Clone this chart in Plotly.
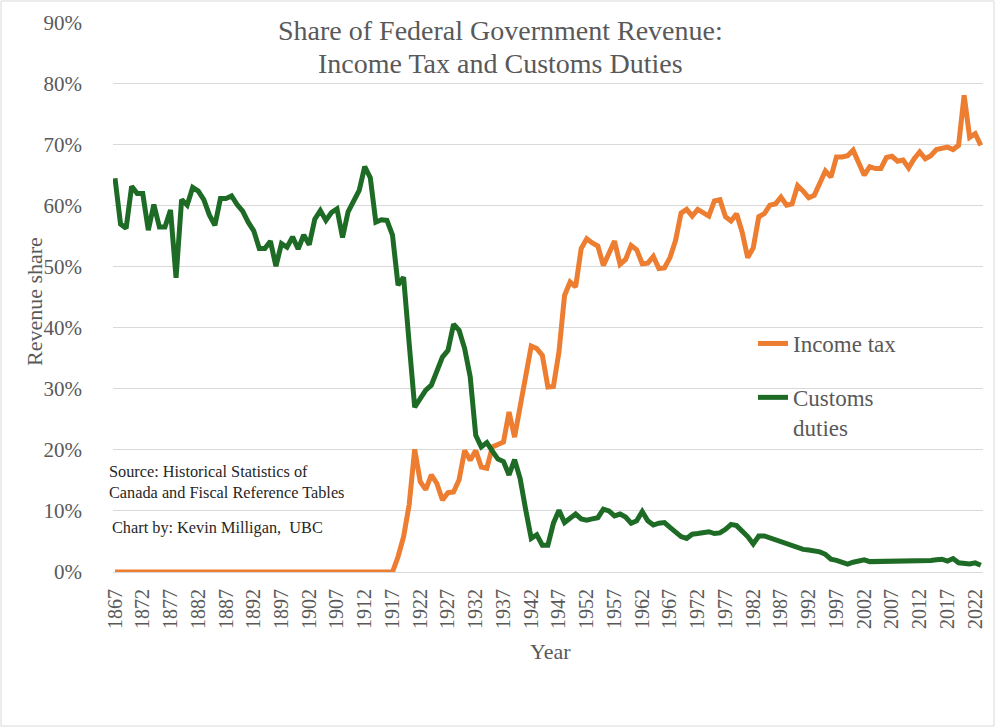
import plotly.graph_objects as go

years = list(range(1867, 2024))

customs_duties = [
    64.5, 57.0, 56.3, 63.2, 62.0, 62.0, 56.0, 60.2, 56.5, 56.5,   # 1867-1876
    59.3, 48.2, 61.0, 60.1, 63.0, 62.4, 61.0, 58.5, 56.8, 61.2,   # 1877-1886
    61.2, 61.6, 60.2, 59.1, 57.3, 55.9, 53.0, 53.0, 54.2, 50.1,   # 1887-1896
    53.8, 53.2, 54.9, 52.9, 55.2, 53.6, 57.8, 59.2, 57.6, 58.9,   # 1897-1906
    59.5, 54.8, 59.0, 60.9, 62.5, 66.4, 64.6, 57.3, 57.7, 57.6,   # 1907-1916
    55.2, 47.0, 48.3, 37.5, 27.0, 28.4, 29.8, 30.6, 32.8, 35.2,   # 1917-1926
    36.3, 40.6, 39.6, 36.6, 32.0, 22.4, 20.5, 21.2, 19.8, 18.5,   # 1927-1936
    18.1, 15.9, 18.4, 15.3, 10.2, 5.5, 6.1, 4.4, 4.4, 8.0,        # 1937-1946
    10.1, 8.1, 8.8, 9.5, 8.7, 8.5, 8.7, 8.9, 10.3, 10.0,          # 1947-1956
    9.2, 9.5, 9.0, 8.0, 8.4, 9.9, 8.4, 7.7, 8.0, 8.1,             # 1957-1966
    7.3, 6.5, 5.8, 5.5, 6.2, 6.3, 6.4, 6.6, 6.3, 6.4,             # 1967-1976
    7.0, 7.8, 7.6, 6.8, 5.8, 4.6, 5.9, 5.9, 5.6, 5.3,             # 1977-1986
    5.0, 4.7, 4.3, 3.9, 3.7, 3.6, 3.5, 3.3, 2.9, 2.1,             # 1987-1996
    1.9, 1.7, 1.3, 1.6, 1.8, 2.0, 1.7, 1.7, 1.7, 1.8,             # 1997-2006
    1.8, 1.7, 1.8, 1.7, 1.8, 1.8, 1.8, 1.9, 2.0, 2.1,             # 2007-2016
    1.8, 2.2, 1.5, 1.4, 1.3, 1.5, 1.1,                            # 2017-2023
]

income_tax = [0.0] * 51 + [                                       # 1867-1917
    2.5, 5.8, 11.0, 20.1, 14.8, 13.5, 15.9, 14.5, 11.8,           # 1918-1926
    13.0, 13.1, 15.1, 19.9, 18.3, 19.9, 17.2, 17.0, 20.5, 20.9,   # 1927-1936
    21.3, 26.2, 22.1, 27.1, 32.2, 37.0, 36.6, 35.5, 30.3, 30.4,   # 1937-1946
    36.1, 45.3, 47.5, 46.7, 53.0, 54.6, 53.9, 53.4, 50.2, 52.3,   # 1947-1956
    54.2, 50.4, 51.2, 53.5, 52.8, 50.5, 50.6, 51.7, 49.7, 49.8,   # 1957-1966
    51.5, 54.3, 58.8, 59.4, 58.3, 59.4, 58.9, 58.3, 60.8, 61.0,   # 1967-1976
    58.2, 57.5, 58.7, 55.7, 51.5, 53.1, 58.2, 58.7, 60.1, 60.3,   # 1977-1986
    61.4, 60.1, 60.3, 63.3, 62.4, 61.3, 61.7, 63.9, 65.7, 64.7,   # 1987-1996
    68.0, 68.0, 68.2, 69.1, 67.2, 65.0, 66.4, 66.1, 66.1, 67.9,   # 1997-2006
    68.1, 67.3, 67.5, 66.2, 67.7, 68.8, 67.7, 68.2, 69.2, 69.4,   # 2007-2016
    69.6, 69.2, 69.9, 78.1, 71.2, 71.8, 69.9,                     # 2017-2023
]

tick_years = list(range(1867, 2023, 5))
y_ticks = list(range(0, 91, 10))
y_labels = [f"{v}%" for v in y_ticks]

title_lines = ["Share of Federal Government Revenue:", "Income Tax and Customs Duties"]
source_lines = ["Source: Historical Statistics of", "Canada and Fiscal Reference Tables"]

FONT = "Liberation Serif, Times New Roman, serif"
GRAY = "#595959"
ORANGE = "#ED7D31"
GREEN = "#1E6B26"

fig = go.Figure()
fig.add_trace(go.Scatter(
    x=years, y=income_tax, mode="lines", name="Income tax",
    legendgroup="a", line=dict(color=ORANGE, width=5),
))
fig.add_trace(go.Scatter(
    x=years, y=customs_duties, mode="lines", name="Customs<br>duties",
    legendgroup="b", line=dict(color=GREEN, width=5),
))

L, R, T, B = 113, 17, 22, 155
W, H = 1000, 727
pw, ph = W - L - R, H - T - B


def px_x(x):
    return (x - L) / pw


def px_y(y):
    return (H - B - y) / ph


def label(text, x, y, size, color=GRAY, xanchor="center", angle=0):
    return dict(text=text, xref="paper", yref="paper", x=px_x(x), y=px_y(y),
                xanchor=xanchor, yanchor="middle", align="left",
                showarrow=False, textangle=angle,
                font=dict(family=FONT, size=size, color=color))


fig.update_layout(
    width=W, height=H,
    margin=dict(l=L, r=R, t=T, b=B, autoexpand=False),
    paper_bgcolor="white", plot_bgcolor="white",
    font=dict(family=FONT, color=GRAY),
    showlegend=True,
    legend=dict(
        x=px_x(753), y=px_y(322), xanchor="left", yanchor="top",
        font=dict(family=FONT, size=23, color=GRAY),
        traceorder="grouped", tracegroupgap=21, valign="top",
        bgcolor="rgba(0,0,0,0)",
    ),
    xaxis=dict(
        range=[1866.64, 2023.4], automargin=False,
        tickmode="array", tickvals=tick_years,
        ticktext=[str(t) for t in tick_years],
        tickangle=-90, tickfont=dict(family=FONT, size=20, color=GRAY),
        showgrid=False, zeroline=False,
        showline=True, linecolor="#d9d9d9", linewidth=1,
        ticks="", ticklabelstandoff=8,
    ),
    yaxis=dict(
        range=[0, 90.1], automargin=False,
        tickmode="array", tickvals=y_ticks, ticktext=y_labels,
        tickfont=dict(family=FONT, size=21, color=GRAY),
        showgrid=True, gridcolor="#d9d9d9", gridwidth=1,
        zeroline=False, ticks="", ticklabelstandoff=30,
    ),
    annotations=[
        label(title_lines[0], 500, 31, 28),
        label(title_lines[1], 500, 63, 28),
        label("Revenue share", 35, 302, 22, angle=-90),
        label("Year", 550, 651, 22),
        label(source_lines[0], 107, 471, 16.3, color="#262626", xanchor="left"),
        label(source_lines[1], 107, 492, 16.3, color="#262626", xanchor="left"),
        label("Chart by: Kevin Milligan,  UBC", 110, 527, 16.3,
              color="#262626", xanchor="left"),
    ],
    shapes=[
        dict(type="rect", xref="paper", yref="paper",
             x0=px_x(1), x1=px_x(994), y0=px_y(726), y1=px_y(1),
             line=dict(color="#d9d9d9", width=1), fillcolor="rgba(0,0,0,0)",
             layer="below"),
    ],
)

fig.write_html("out.html", config={"displayModeBar": False},
               post_script="document.body.style.margin='0';")
